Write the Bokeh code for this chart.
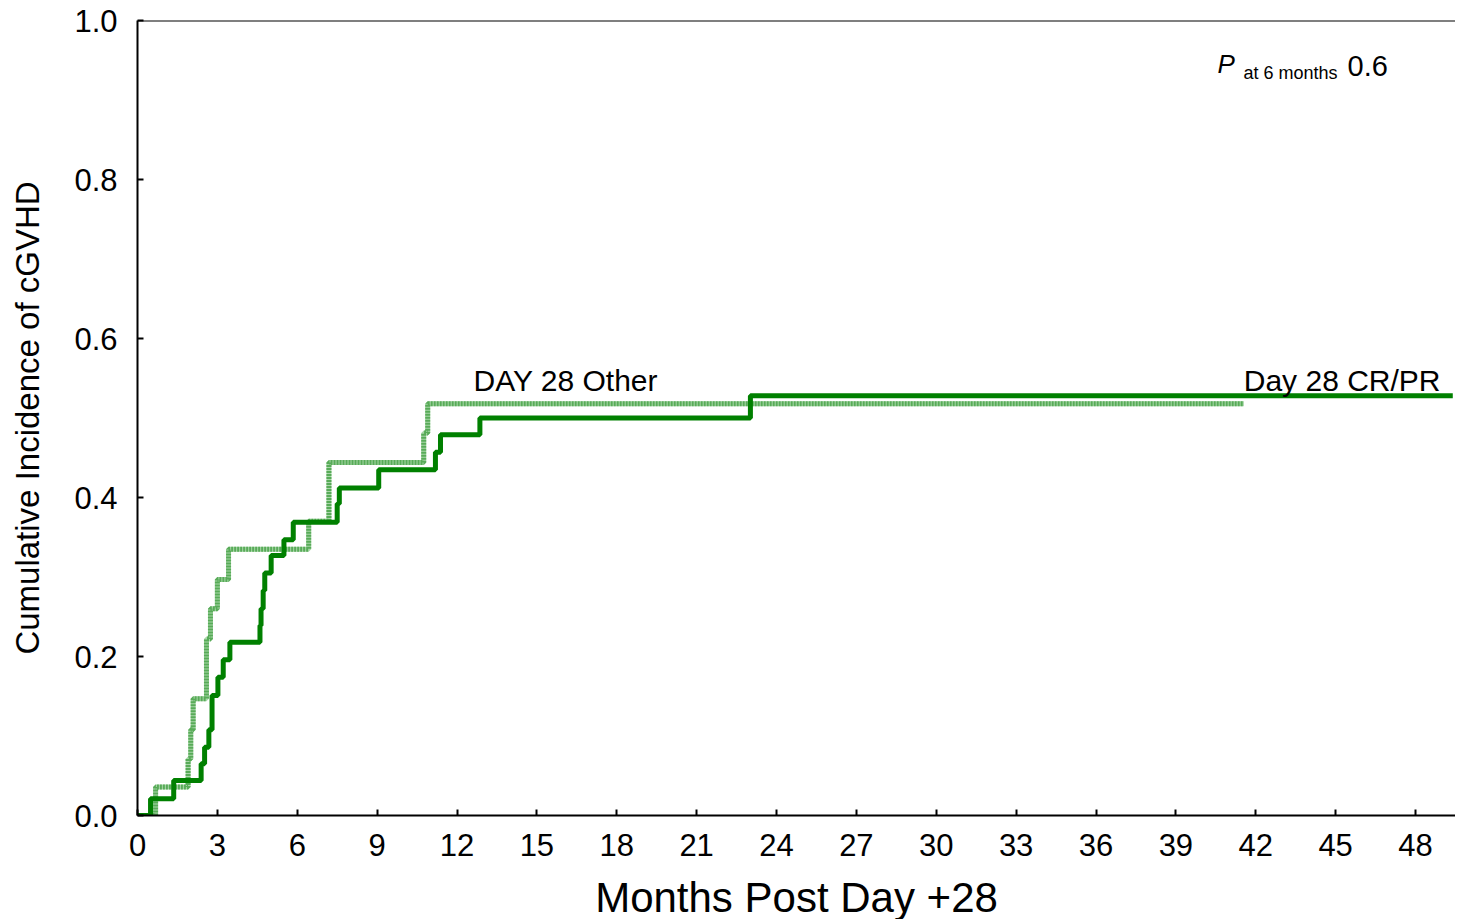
from bokeh.plotting import figure
from bokeh.models import Label, Span, FixedTicker
from bokeh.embed import file_html
from bokeh.resources import INLINE

# Day 28 CR/PR (solid)
crpr_months = [0, 0.49, 1.36, 2.39, 2.52, 2.68, 2.80, 3.02, 3.22, 3.47, 4.60, 4.64, 4.72, 4.78,
               5.02, 5.50, 5.85, 7.50, 7.58, 9.06, 11.19, 11.38, 12.86, 23.02, 49.4]
crpr_ci = [0, 0.021, 0.044, 0.065, 0.086, 0.108, 0.151, 0.174, 0.196, 0.218, 0.239, 0.260, 0.283, 0.305,
           0.327, 0.347, 0.369, 0.392, 0.412, 0.435, 0.457, 0.479, 0.500, 0.528, 0.528]

# DAY 28 Other (dashed)
other_months = [0, 0.68, 1.90, 2.00, 2.09, 2.59, 2.74, 3.00, 3.42, 6.43, 7.19, 10.75, 10.90, 41.55]
other_ci = [0, 0.036, 0.071, 0.108, 0.147, 0.222, 0.260, 0.297, 0.335, 0.370, 0.444, 0.481, 0.518, 0.518]

x_ticks = list(range(0, 49, 3))
y_ticks = [0.0, 0.2, 0.4, 0.6, 0.8, 1.0]

FONT = "Liberation Sans"

p = figure(frame_width=1318, frame_height=795, output_backend="svg", toolbar_location=None,
           x_range=(0, 1318 / 26.625), y_range=(0, 1.0),
           min_border_left=137, min_border_top=20, min_border_bottom=96, min_border_right=0)
p.outline_line_color = None
p.xgrid.visible = False
p.ygrid.visible = False
p.background_fill_color = "white"

for ax in (p.xaxis[0], p.yaxis[0]):
    ax.axis_line_color = "black"
    ax.axis_line_width = 2
    ax.major_tick_line_color = "black"
    ax.major_tick_line_width = 2
    ax.major_tick_in = 6
    ax.major_tick_out = 0
    ax.minor_tick_line_color = None
    ax.major_label_text_font = FONT
    ax.major_label_text_font_size = "31px"
    ax.major_label_text_color = "black"
    ax.axis_label_text_font = FONT
    ax.axis_label_text_font_style = "normal"
    ax.axis_label_text_color = "black"

p.xaxis.ticker = FixedTicker(ticks=x_ticks)
p.yaxis.ticker = FixedTicker(ticks=y_ticks)
p.yaxis.major_label_overrides = {v: f"{v:.1f}" for v in y_ticks}
p.xaxis.major_label_standoff = 18
p.yaxis.major_label_standoff = 20
p.xaxis.axis_label = "Months Post Day +28"
p.xaxis.axis_label_text_font_size = "42px"
p.xaxis.axis_label_standoff = 15
p.yaxis.axis_label = "Cumulative Incidence of cGVHD"
p.yaxis.axis_label_text_font_size = "33px"
p.yaxis.axis_label_standoff = 25

p.add_layout(Span(location=1.0, dimension="width", line_color="black", line_width=2))

# Other: striped dashed line
p.step(other_months, other_ci, mode="after", line_color="#a9d7a9", line_width=5)
p.step(other_months, other_ci, mode="after", line_color="#58ab58", line_width=5, line_dash="2 1")
# CR/PR: solid
p.step(crpr_months, crpr_ci, mode="after", line_color="#008000", line_width=5)

p.add_layout(Label(x=12.62, y=0.527, text="DAY 28 Other", text_font=FONT, text_font_size="30px",
                   text_color="black"))
p.add_layout(Label(x=41.55, y=0.527, text="Day 28 CR/PR", text_font=FONT, text_font_size="30px",
                   text_color="black"))
p.add_layout(Label(x=40.56, y=0.927, text="P", text_font=FONT, text_font_size="26px",
                   text_font_style="italic", text_color="black"))
p.add_layout(Label(x=41.54, y=0.922, text="at 6 months", text_font=FONT, text_font_size="18px",
                   text_color="black"))
p.add_layout(Label(x=45.45, y=0.93, text="0.6", text_font=FONT, text_font_size="29px",
                   text_color="black"))

open("out.html", "w").write(file_html(p, INLINE))
